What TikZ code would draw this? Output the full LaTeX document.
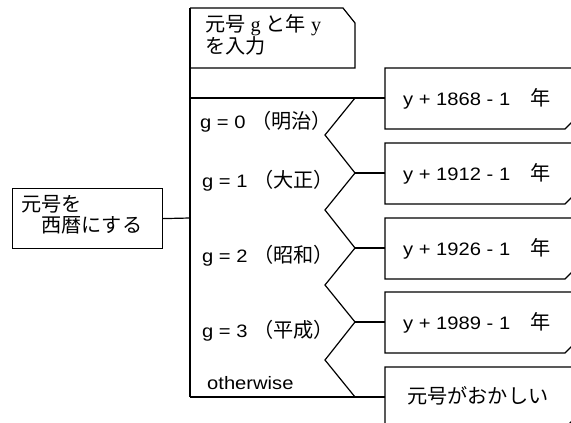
\documentclass[tikz,border=0pt]{standalone}
\usepackage{fontspec}
\setmainfont{Liberation Sans}[FakeStretch=1.12]
\newfontfamily\cjk{Noto Sans CJK JP}[Scale=1.12]
\newfontfamily\serifl{Liberation Serif}[Scale=1.12]
\newcommand\fwl[1]{\makebox[1.12em]{\serifl #1}}
\tikzset{
  ln/.style={line width=1.2pt, line join=miter},
  txt/.style={inner sep=0pt, font=\fontsize{18}{21}\selectfont, align=left},
}
\newcommand\resbox[3]{%
  \draw[ln] (385,#2-30) -- (580,#2-30) -- (580,#2+16) -- (565,#2+31) -- (385,#2+31) -- cycle;
  \coordinate (#1w) at (385,#2);
  \node[txt, anchor=west] (#1) at (403,#2+1) {#3};}
\begin{document}
\begin{tikzpicture}[x=1pt,y=-1pt]
\useasboundingbox (0,0) rectangle (571,423);
\clip (0,0) rectangle (571,423);
\fill[white] (0,0) rectangle (571,423);
% left process box
\node[ln, draw, minimum width=150pt, minimum height=60pt, anchor=north west, inner sep=0pt] (conv) at (12,188) {};
\node[txt, anchor=west] (convt) at (21,214.5) {{\cjk 元号を}\\\hspace*{20pt}{\cjk 西暦にする}};
\coordinate (seqtop) at (190,8);
\coordinate (seqj) at (190,218);
\coordinate (seqbot) at (190,397);
\draw[ln] (conv.east) -- (seqj);
\draw[ln] (seqtop) -- (seqbot);
% input box
\coordinate (in1) at (343,8);
\coordinate (in2) at (355,23);
\coordinate (in3) at (355,68);
\coordinate (in4) at (190,68);
\draw[ln] (seqtop) -- (in1) -- (in2) -- (in3) -- (in4);
\node[txt, anchor=west] (input) at (205,35) {{\cjk 元号}\fwl{g}{\cjk と年}\fwl{y}\\{\cjk を入力}};
% case structure
\coordinate (c0) at (190,98);
\coordinate (z0) at (355,98);
\coordinate (v1) at (325,135);
\coordinate (z1) at (355,173);
\coordinate (v2) at (325,210);
\coordinate (z2) at (355,248);
\coordinate (v3) at (325,285);
\coordinate (z3) at (355,322);
\coordinate (v4) at (325,360);
\coordinate (z4) at (355,397);
\resbox{r0}{98}{y + 1868 - 1{\cjk 　年}}
\resbox{r1}{173}{y + 1912 - 1{\cjk 　年}}
\resbox{r2}{248}{y + 1926 - 1{\cjk 　年}}
\resbox{r3}{322}{y + 1989 - 1{\cjk 　年}}
\draw[ln] (385,367) -- (580,367) -- (580,413) -- (565,428) -- (385,428) -- cycle;
\coordinate (r4w) at (385,397);
\node[txt, anchor=west] (r4) at (407,396) {\cjk 元号がおかしい};
\draw[ln] (c0) -- (r0w);
\draw[ln] (z0) -- (v1) -- (z1) -- (v2) -- (z2) -- (v3) -- (z3) -- (v4) -- (z4);
\draw[ln] (z1) -- (r1w);
\draw[ln] (z2) -- (r2w);
\draw[ln] (z3) -- (r3w);
\draw[ln] (seqbot) -- (r4w);
% case labels
\node[txt, anchor=west] (g0) at (200,122) {g = 0 {\cjk （明治）}};
\node[txt, anchor=west] (g1) at (202,181) {g = 1 {\cjk （大正）}};
\node[txt, anchor=west] (g2) at (202,256) {g = 2 {\cjk （昭和）}};
\node[txt, anchor=west] (g3) at (202,331) {g = 3 {\cjk （平成）}};
\node[txt, anchor=west] (gx) at (207,383) {otherwise};
\end{tikzpicture}
\end{document}
